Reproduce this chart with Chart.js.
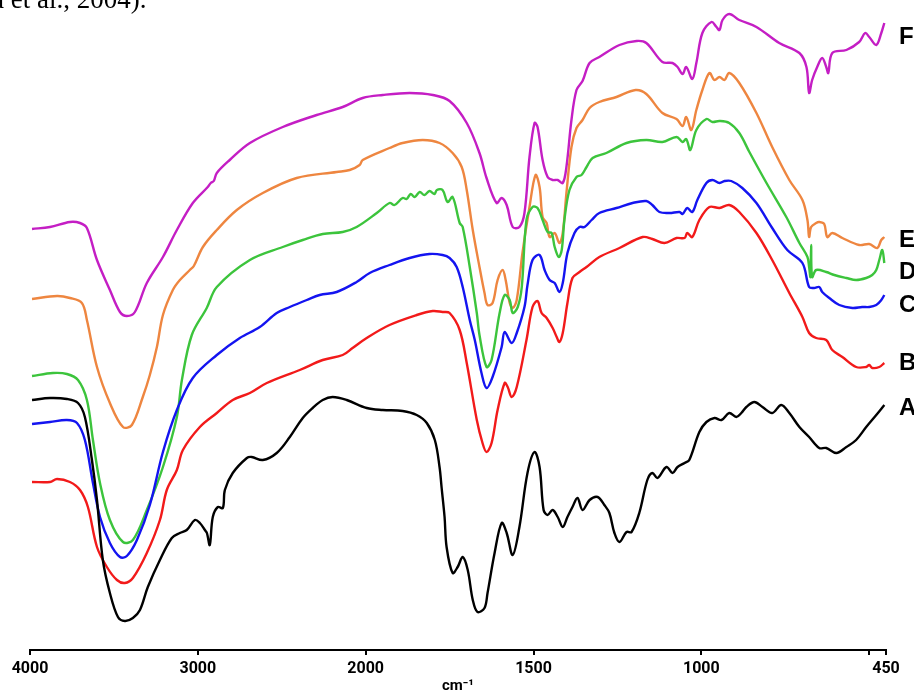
<!DOCTYPE html>
<html>
<head>
<meta charset="utf-8">
<script src="https://cdn.jsdelivr.net/npm/chart.js@4.4.1/dist/chart.umd.min.js"></script>
<style>
  body { margin: 0; background: #fff; }
  #wrap { position: relative; width: 914px; height: 695px; overflow: hidden; }
  #cite { position: absolute; left: -8px; top: -14px; font: 27px/27px 'Liberation Serif', 'Times New Roman', serif; color: #000; white-space: nowrap; }
</style>
</head>
<body>
<div id="wrap">
  <div id="cite">a et al., 2004).</div>
  <canvas id="chart" width="914" height="695"></canvas>
</div>
<script>
// spectra: [wavenumber cm-1, intensity a.u.]
const sampleNames = ['A', 'B', 'C', 'D', 'E', 'F'];

const curveA = [
  [3988,250],[3881,252],[3780,251],[3714,247],[3673,233],[3631,190],[3601,150],[3566,90],[3524,57],
  [3476,33],[3435,29],[3387,32],[3345,40],[3298,63],[3226,90],[3155,112],[3107,117],[3066,120],
  [3018,130],[2988,127],[2958,120],[2946,117],[2929,105],[2911,133],[2881,143],[2851,142],[2839,160],
  [2792,177],[2708,192],[2679,193],[2613,190],[2530,197],[2452,213],[2375,232],[2316,242],[2256,250],
  [2197,253],[2113,250],[1997,242],[1949,240],[1890,239],[1848,235],[1818,227],[1794,210],[1780,183],
  [1774,163],[1765,133],[1759,103],[1741,77],[1726,83],[1711,93],[1696,80],[1681,50],[1667,38],
  [1646,42],[1637,57],[1616,97],[1595,127],[1580,117],[1562,95],[1542,123],[1518,177],[1497,198],
  [1482,183],[1470,140],[1458,135],[1443,140],[1428,133],[1413,123],[1399,133],[1384,143],[1369,152],
  [1354,140],[1333,150],[1309,153],[1289,145],[1274,137],[1259,117],[1244,108],[1223,118],[1208,118],
  [1185,137],[1161,170],[1146,177],[1131,172],[1104,183],[1086,177],[1071,183],[1050,187],[1036,190],
  [1006,218],[985,228],[961,232],[940,230],[917,237],[896,233],[881,237],[866,243],[842,248],[818,243],
  [789,237],[762,245],[738,237],[708,223],[679,213],[649,202],[628,202],[598,197],[568,203],[539,210],
  [509,223],[479,235],[455,245]
];

const curveB = [
  [3988,168],[3881,168],[3839,171],[3762,168],[3702,160],[3655,143],[3601,103],[3542,83],[3482,70],
  [3435,67],[3387,72],[3304,97],[3226,130],[3185,160],[3125,180],[3089,200],[2988,223],[2887,237],
  [2792,250],[2690,257],[2589,267],[2393,280],[2256,290],[2137,295],[2078,302],[1997,312],[1929,325],
  [1848,335],[1800,339],[1771,338],[1750,337],[1720,320],[1699,287],[1669,230],[1652,207],[1640,198],
  [1625,207],[1607,240],[1586,267],[1577,263],[1565,253],[1550,263],[1521,310],[1503,343],[1488,349],
  [1476,337],[1461,332],[1443,322],[1431,313],[1423,308],[1413,317],[1399,347],[1384,372],[1363,378],
  [1342,383],[1304,393],[1244,402],[1175,413],[1146,411],[1110,407],[1074,412],[1050,412],[1042,417],
  [1027,413],[1006,430],[976,443],[946,442],[917,445],[887,438],[836,417],[789,390],[738,357],[699,333],
  [679,317],[658,312],[628,310],[610,300],[580,293],[539,283],[509,283],[500,285],[491,282],[470,283],
  [455,287]
];

const curveC = [
  [3988,226],[3881,228],[3780,230],[3720,227],[3673,210],[3625,167],[3583,133],[3524,107],[3464,93],
  [3423,94],[3363,110],[3286,145],[3208,198],[3125,240],[3030,272],[2887,295],[2750,312],[2631,323],
  [2530,337],[2452,343],[2351,350],[2274,355],[2173,358],[2054,368],[1988,377],[1929,385],[1869,392],
  [1810,396],[1771,395],[1750,392],[1729,383],[1711,363],[1690,330],[1675,310],[1655,277],[1640,262],
  [1622,273],[1595,303],[1586,318],[1565,307],[1550,317],[1527,343],[1518,365],[1503,390],[1482,395],
  [1467,380],[1452,370],[1437,367],[1423,358],[1413,367],[1399,397],[1378,417],[1363,423],[1348,423],
  [1327,430],[1304,437],[1253,442],[1205,447],[1164,449],[1146,445],[1125,438],[1095,437],[1065,438],
  [1056,436],[1042,442],[1027,438],[1012,450],[985,467],[967,470],[946,467],[931,469],[911,469],
  [878,462],[836,447],[789,422],[744,400],[699,387],[679,363],[664,362],[649,363],[640,358],[619,352],
  [589,345],[550,342],[521,343],[500,343],[479,345],[464,350],[455,355]
];

const curveD = [
  [3988,274],[3863,277],[3780,276],[3714,270],[3661,250],[3625,210],[3583,167],[3524,130],[3446,108],
  [3387,110],[3304,140],[3208,183],[3125,233],[3095,270],[3036,315],[2947,342],[2887,363],[2690,390],
  [2494,403],[2375,410],[2256,416],[2137,418],[2054,423],[1967,437],[1929,447],[1914,445],[1890,452],
  [1878,451],[1866,456],[1854,453],[1839,458],[1825,455],[1810,459],[1795,456],[1788,460],[1771,460],
  [1756,448],[1741,453],[1720,427],[1711,423],[1690,383],[1669,337],[1661,315],[1640,283],[1625,290],
  [1601,337],[1586,355],[1571,350],[1562,337],[1547,343],[1535,363],[1521,430],[1503,443],[1488,442],
  [1473,430],[1458,418],[1446,417],[1437,403],[1425,393],[1416,400],[1408,430],[1393,460],[1372,473],
  [1357,475],[1342,483],[1324,492],[1283,497],[1223,507],[1164,510],[1116,508],[1074,513],[1056,508],
  [1045,511],[1033,500],[1015,520],[985,531],[967,528],[946,529],[917,527],[887,517],[857,498],[806,467],
  [747,433],[708,407],[684,393],[679,383],[675,373],[673,405],[670,373],[658,380],[628,378],[604,375],
  [568,372],[539,370],[509,372],[491,375],[479,380],[470,390],[461,400],[455,387]
];

const curveE = [
  [3988,351],[3839,354],[3762,352],[3691,347],[3661,330],[3601,283],[3524,247],[3446,223],[3393,225],
  [3328,253],[3286,275],[3244,303],[3208,335],[3149,360],[3107,370],[3048,380],[3024,384],[2970,403],
  [2887,420],[2768,440],[2613,457],[2411,472],[2173,478],[2095,480],[2036,485],[2018,490],[1929,502],
  [1890,507],[1830,510],[1780,507],[1741,497],[1714,483],[1699,460],[1681,420],[1661,383],[1646,357],
  [1637,345],[1622,347],[1607,370],[1592,380],[1583,370],[1571,347],[1562,342],[1550,350],[1533,397],
  [1512,443],[1494,475],[1482,463],[1473,433],[1461,427],[1452,413],[1437,417],[1423,407],[1413,417],
  [1402,457],[1387,503],[1372,522],[1354,530],[1333,542],[1304,548],[1253,553],[1196,560],[1164,556],
  [1116,537],[1074,531],[1056,524],[1045,533],[1030,520],[1015,540],[997,560],[976,577],[961,570],
  [946,573],[931,570],[917,577],[887,567],[836,537],[789,503],[738,470],[699,450],[684,430],[679,413],
  [673,423],[658,427],[649,428],[634,426],[625,413],[610,417],[580,412],[530,405],[500,406],[476,402],
  [464,410],[455,413]
];

const curveF = [
  [3988,421],[3881,423],[3762,428],[3702,427],[3661,422],[3601,390],[3524,360],[3464,338],[3423,334],
  [3375,338],[3304,367],[3208,393],[3125,420],[3030,447],[2941,463],[2923,467],[2905,469],[2887,477],
  [2810,490],[2690,507],[2494,523],[2292,535],[2137,543],[2018,552],[1949,555],[1869,557],[1800,555],
  [1750,549],[1699,527],[1661,497],[1640,472],[1610,447],[1595,452],[1580,445],[1562,423],[1542,423],
  [1527,437],[1512,493],[1497,527],[1488,523],[1473,490],[1458,473],[1443,470],[1428,470],[1413,467],
  [1402,483],[1387,530],[1372,560],[1354,569],[1333,587],[1304,593],[1244,605],[1193,609],[1164,607],
  [1116,588],[1086,587],[1071,583],[1056,576],[1045,583],[1027,571],[1015,587],[997,617],[970,628],
  [955,623],[946,620],[937,630],[917,636],[887,630],[836,623],[768,607],[708,597],[687,583],[679,557],
  [670,570],[655,583],[640,592],[628,583],[622,577],[610,597],[568,600],[530,608],[512,617],[500,613],
  [479,605],[464,617],[455,627]
];

const curves = [curveA, curveB, curveC, curveD, curveE, curveF];
const lineColors = ['#000000', '#f21a1a', '#1414f0', '#3cc43c', '#ee8640', '#c41ec4'];
// where the letters A..F sit (a.u.)
const labelLevels = [242, 287, 345, 378, 410, 613];

const tickWavenumbers = [4000, 3000, 2000, 1500, 1000, 500, 450];
const tickLabels = ['4000', '3000', '2000', '1500', '1000', '', '450'];

// axis is expanded 2x below 2000 cm-1
function toAxis(wn) {
  return wn >= 2000 ? 4000 - wn : 2000 + 2 * (2000 - wn);
}

const sampleLabels = {
  id: 'sampleLabels',
  afterDraw(chart) {
    const ctx = chart.ctx;
    const y = chart.scales.y;
    ctx.save();
    ctx.fillStyle = '#000';
    ctx.font = 'bold 24px "Liberation Sans", Arial, sans-serif';
    ctx.textBaseline = 'middle';
    sampleNames.forEach((name, i) => {
      ctx.fillText(name, chart.chartArea.right + 13, y.getPixelForValue(labelLevels[i]));
    });
    ctx.restore();
  }
};

new Chart(document.getElementById('chart'), {
  type: 'line',
  data: {
    datasets: curves.map((c, i) => ({
      label: sampleNames[i],
      data: c.map(([w, t]) => ({ x: toAxis(w), y: t })),
      borderColor: lineColors[i],
      borderWidth: 2.4,
      pointRadius: 0,
      tension: 0.35,
      fill: false
    }))
  },
  options: {
    responsive: false,
    animation: false,
    layout: { padding: { left: 30, right: 28, top: 10, bottom: 0 } },
    plugins: { legend: { display: false }, tooltip: { enabled: false } },
    scales: {
      x: {
        type: 'linear',
        min: 0,
        max: toAxis(450),
        afterBuildTicks: s => { s.ticks = tickWavenumbers.map(w => ({ value: toAxis(w) })); },
        afterFit: s => { s.height = 45; },
        ticks: {
          autoSkip: false,
          maxRotation: 0,
          padding: 4,
          color: '#000',
          font: { family: 'Roboto, sans-serif', size: 16, weight: 'bold' },
          callback: (v, i) => tickLabels[i]
        },
        grid: { drawOnChartArea: false, drawTicks: true, tickLength: 5, color: '#000', lineWidth: 2 },
        border: { display: true, color: '#000', width: 2 },
        title: {
          display: true,
          text: 'cm⁻¹',
          color: '#000',
          padding: { top: 0, bottom: 0 },
          font: { family: 'Roboto, sans-serif', size: 15, weight: 'bold' }
        }
      },
      y: { display: false, min: 0, max: 640 }
    }
  },
  plugins: [sampleLabels]
});
</script>
</body>
</html>
